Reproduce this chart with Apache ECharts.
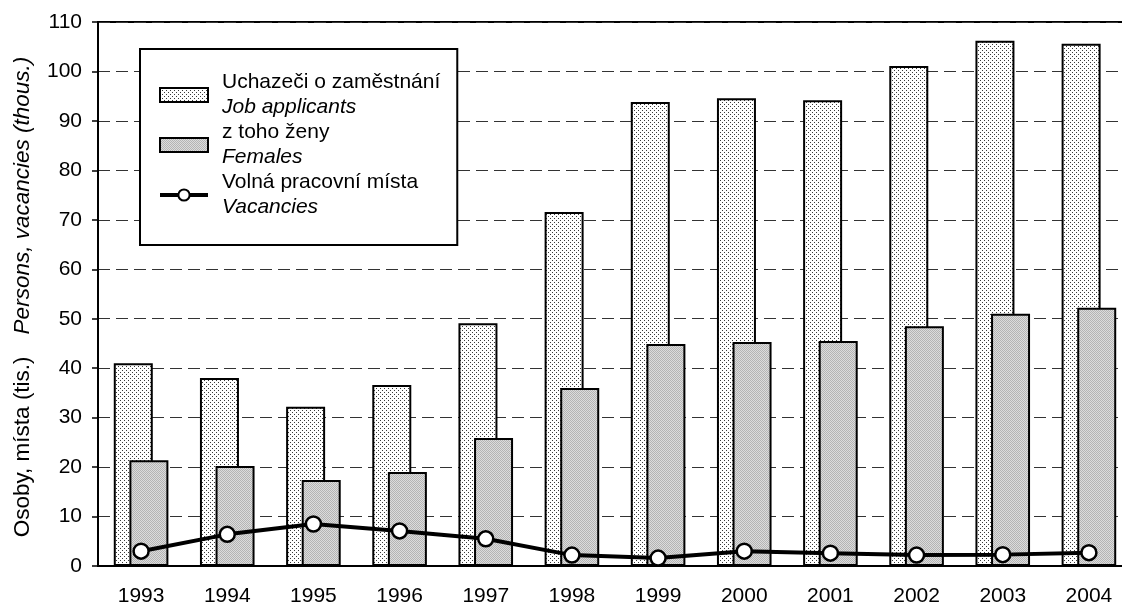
<!DOCTYPE html>
<html>
<head>
<meta charset="utf-8">
<script src="https://cdn.jsdelivr.net/npm/echarts@6/dist/echarts.min.js"></script>
<style>
html, body { margin: 0; padding: 0; background: #fff; }
#chart { width: 1122px; height: 605px; }
</style>
</head>
<body>
<div id="chart"></div>
<script>
const years = ['1993', '1994', '1995', '1996', '1997', '1998', '1999', '2000', '2001', '2002', '2003', '2004'];
const applicants = [41.0, 38.0, 32.2, 36.6, 49.1, 71.6, 93.8, 94.6, 94.2, 101.1, 106.2, 105.6];
const females = [21.4, 20.2, 17.4, 19.0, 25.9, 36.0, 44.9, 45.3, 45.5, 48.5, 51.0, 52.2];
const vacancies = [3.0, 6.4, 8.5, 7.1, 5.5, 2.2, 1.6, 3.0, 2.6, 2.2, 2.3, 2.7];
const namesCz = ['Uchazeči o zaměstnání', 'z toho ženy', 'Volná pracovní místa'];
const namesEn = ['Job applicants', 'Females', 'Vacancies'];

const font = '"Liberation Sans", Arial, sans-serif';

// small tiles for the bar fills
function dotTile() {
  const c = document.createElement('canvas');
  c.width = 4; c.height = 4;
  const ctx = c.getContext('2d');
  ctx.fillStyle = '#fff';
  ctx.fillRect(0, 0, 4, 4);
  ctx.fillStyle = '#3a3a3a';
  ctx.fillRect(0, 0, 1, 1);
  ctx.fillRect(2, 2, 1, 1);
  return c;
}
function greyTile() {
  const c = document.createElement('canvas');
  c.width = 2; c.height = 2;
  const ctx = c.getContext('2d');
  ctx.fillStyle = '#dcdcdc';
  ctx.fillRect(0, 0, 2, 2);
  ctx.fillStyle = '#b4b4b4';
  ctx.fillRect(0, 0, 1, 1);
  ctx.fillRect(1, 1, 1, 1);
  return c;
}

const chart = echarts.init(document.getElementById('chart'));

const option = {
  animation: false,
  textStyle: { fontFamily: font },
  grid: {
    left: 98, top: 22, width: 1034, height: 544,
    outerBoundsMode: 'none',
    containLabel: false,
    show: true, borderColor: '#000', borderWidth: 2, backgroundColor: 'transparent'
  },
  legend: {
    orient: 'vertical',
    left: 140, top: 49,
    padding: [21, 17, 25, 18],
    itemGap: 0,
    itemWidth: 48, itemHeight: 14,
    backgroundColor: '#fff',
    borderColor: '#000', borderWidth: 2,
    selectedMode: false,
    lineStyle: { width: 4, color: '#000' },
    data: [
      { name: namesCz[0], icon: 'rect' },
      { name: namesCz[1], icon: 'rect' },
      { name: namesCz[2] }
    ],
    formatter: function (name) {
      const i = namesCz.indexOf(name);
      return '{a|' + name + '}\n{b|' + namesEn[i] + '}';
    },
    textStyle: {
      lineHeight: 25,
      rich: {
        a: { fontFamily: font, fontSize: 21, color: '#000', lineHeight: 25, padding: [0, 0, 0, 9] },
        b: { fontFamily: font, fontSize: 21, color: '#000', lineHeight: 25, fontStyle: 'italic', padding: [0, 0, 0, 9] }
      }
    }
  },
  xAxis: {
    type: 'category',
    data: years,
    axisLine: { lineStyle: { color: '#000', width: 2 } },
    axisTick: { length: 7, lineStyle: { color: '#000', width: 1.5 } },
    axisLabel: { color: '#000', fontSize: 21, fontFamily: font, margin: 20 },
    splitLine: { show: false }
  },
  yAxis: {
    type: 'value',
    min: 0, max: 110, interval: 10,
    name: '{a|Osoby, místa (tis.)}{b|Persons, vacancies (thous.)}',
    nameLocation: 'middle',
    nameRotate: 90,
    nameGap: 64,
    nameTextStyle: {
      rich: {
        a: { fontFamily: font, fontSize: 22.5, color: '#000', padding: [0, 22, 0, 0] },
        b: { fontFamily: font, fontSize: 22.5, color: '#000', fontStyle: 'italic', padding: [0, 6, 0, 0] }
      }
    },
    axisLine: { show: true, lineStyle: { color: '#000', width: 2 } },
    axisTick: { show: true, length: 6, lineStyle: { color: '#000', width: 1.5 } },
    axisLabel: { color: '#000', fontSize: 21, fontFamily: font, margin: 16 },
    splitLine: { lineStyle: { color: '#333', width: 1, type: [12, 6] } }
  },
  series: [
    {
      name: namesCz[0],
      type: 'bar',
      data: applicants,
      barWidth: 39,
      barGap: '-60%',
      itemStyle: { color: { image: dotTile(), repeat: 'repeat' }, borderColor: '#000', borderWidth: 2 }
    },
    {
      name: namesCz[1],
      type: 'bar',
      data: females,
      barWidth: 39,
      barGap: '-60%',
      itemStyle: { color: { image: greyTile(), repeat: 'repeat' }, borderColor: '#000', borderWidth: 2 }
    },
    {
      name: namesCz[2],
      type: 'line',
      data: vacancies,
      z: 5,
      symbol: 'circle',
      symbolSize: 15,
      lineStyle: { color: '#000', width: 4 },
      itemStyle: { color: '#fff', borderColor: '#000', borderWidth: 2.5 }
    }
  ]
};

chart.setOption(option);
</script>
</body>
</html>
